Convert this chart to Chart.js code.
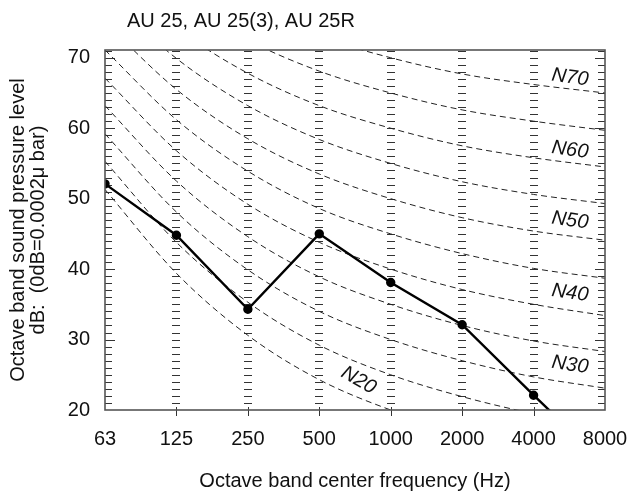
<!DOCTYPE html>
<html>
<head>
<meta charset="utf-8">
<script src="https://cdn.jsdelivr.net/npm/chart.js@4/dist/chart.umd.min.js"></script>
<style>
  html, body { margin: 0; padding: 0; background: #fff; }
  #wrap { width: 634px; height: 497px; }
</style>
</head>
<body>
<div id="wrap"><canvas id="nrChart" width="634" height="497"></canvas></div>
<script>
// octave bands, index 0..7 on a linear axis (one octave per step)
var freqLabels = ['63', '125', '250', '500', '1000', '2000', '4000', '8000'];

// measured unit level, dB (last value runs off the bottom of the chart)
var measuredLevel = [52.1, 44.8, 34.3, 45.0, 38.1, 32.1, 22.1, 12.4];

// N curves, dB per octave band
var n20 = [51.3, 39.4, 30.6, 24.3, 20.0, 16.8, 14.4, 12.6];
var n25 = [55.3, 43.8, 35.3, 29.2, 25.0, 21.9, 19.5, 17.8];
var n30 = [59.2, 48.1, 39.9, 34.0, 30.0, 27.0, 24.7, 23.1];
var n35 = [63.2, 52.5, 44.6, 38.9, 35.0, 32.0, 29.8, 28.3];
var n40 = [67.1, 56.8, 49.2, 43.8, 40.0, 37.1, 35.0, 33.4];
var n45 = [71.1, 61.2, 53.9, 48.6, 45.0, 42.2, 40.1, 38.7];
var n50 = [75.0, 65.5, 58.5, 53.5, 50.0, 47.3, 45.4, 44.1];
var n55 = [79.0, 69.9, 63.2, 58.4, 55.0, 52.4, 50.6, 49.3];
var n60 = [82.9, 74.2, 67.8, 63.2, 60.0, 57.5, 55.8, 54.5];
var n65 = [86.9, 78.6, 72.5, 68.1, 65.0, 62.6, 61.0, 59.7];
var n70 = [90.8, 82.9, 77.1, 73.0, 70.0, 67.7, 66.2, 65.0];

var nCurves = [n20, n25, n30, n35, n40, n45, n50, n55, n60, n65, n70];
var nLabels = ['N20', 'N30', 'N40', 'N50', 'N60', 'N70'];
var chartTitle = 'AU 25, AU 25(3), AU 25R';

var FONT = "'Liberation Sans', Arial, sans-serif";
Chart.defaults.font.family = FONT;
Chart.defaults.color = '#111';

function toPoints(arr) {
  return arr.map(function (v, i) { return { x: i, y: v }; });
}

var datasets = [{
  label: 'AU 25',
  data: toPoints(measuredLevel),
  borderColor: '#000',
  backgroundColor: '#000',
  borderWidth: 2.4,
  pointRadius: 3.5,
  tension: 0
}];

nCurves.forEach(function (c) {
  datasets.push({
    data: toPoints(c),
    borderColor: '#222',
    borderWidth: 1,
    borderDash: [6, 4],
    pointRadius: 0,
    cubicInterpolationMode: 'monotone'
  });
});

// label anchors in data coords: [x index, dB, rotation deg]
var labelPos = {
  N20: [3.55, 24.2, 30],
  N30: [6.51, 26.4, 8],
  N40: [6.51, 36.6, 8],
  N50: [6.51, 46.9, 8],
  N60: [6.51, 56.9, 8],
  N70: [6.51, 67.2, 8]
};

var hatch = {
  id: 'hatch',
  beforeDatasetsDraw: function (chart) {
    var ctx = chart.ctx, a = chart.chartArea, x = chart.scales.x, y = chart.scales.y;
    ctx.save();
    ctx.strokeStyle = '#333';
    ctx.lineWidth = 1;
    ctx.beginPath();
    for (var i = 1; i < freqLabels.length - 1; i++) {
      var px = Math.round(x.getPixelForValue(i));
      for (var v = 21; v <= 71; v++) {
        var py = Math.round(y.getPixelForValue(v)) + 0.5;
        ctx.moveTo(px - 4, py);
        ctx.lineTo(px + 4, py);
      }
    }
    for (var v2 = 21; v2 <= 71; v2++) {
      var py2 = Math.round(y.getPixelForValue(v2)) + 0.5;
      var len = v2 % 10 === 0 ? 10 : 7;
      ctx.moveTo(a.left, py2); ctx.lineTo(a.left + len, py2);
      ctx.moveTo(a.right, py2); ctx.lineTo(a.right - len, py2);
    }
    ctx.stroke();
    ctx.restore();
  },
  afterDatasetsDraw: function (chart) {
    var ctx = chart.ctx, a = chart.chartArea, x = chart.scales.x, y = chart.scales.y;
    ctx.save();
    // bottom ticks
    ctx.strokeStyle = '#333';
    ctx.lineWidth = 1;
    ctx.beginPath();
    for (var i = 1; i < freqLabels.length - 1; i++) {
      var px = Math.round(x.getPixelForValue(i)) + 0.5;
      ctx.moveTo(px, a.bottom - 3);
      ctx.lineTo(px, a.bottom + 6);
    }
    ctx.stroke();
    // frame
    ctx.strokeStyle = '#555';
    ctx.lineWidth = 1.6;
    ctx.strokeRect(a.left, a.top, a.right - a.left, a.bottom - a.top);
    // curve names
    ctx.fillStyle = '#111';
    ctx.font = 'italic 20px ' + FONT;
    ctx.textAlign = 'center';
    ctx.textBaseline = 'middle';
    nLabels.forEach(function (name) {
      var p = labelPos[name];
      ctx.save();
      ctx.translate(x.getPixelForValue(p[0]), y.getPixelForValue(p[1]));
      ctx.rotate(p[2] * Math.PI / 180);
      ctx.fillText(name, 0, 0);
      ctx.restore();
    });
    // heading, offset from the plot's left edge
    ctx.font = '20px ' + FONT;
    ctx.textAlign = 'left';
    ctx.fillText(chartTitle, a.left + 22, 21);
    ctx.restore();
  }
};

new Chart(document.getElementById('nrChart').getContext('2d'), {
  type: 'line',
  data: { datasets: datasets },
  plugins: [hatch],
  options: {
    responsive: false,
    animation: false,
    layout: { padding: { left: 0, right: 29, top: 50, bottom: 0 } },
    plugins: {
      legend: { display: false },
      tooltip: { enabled: false },
      title: { display: false }
    },
    scales: {
      x: {
        type: 'linear',
        min: 0,
        max: 7,
        grid: { display: false },
        border: { display: false },
        ticks: {
          stepSize: 1,
          padding: 9,
          font: { size: 20 },
          color: '#111',
          maxRotation: 0,
          callback: function (v) { return freqLabels[v]; }
        },
        title: {
          display: true,
          text: 'Octave band center frequency (Hz)',
          font: { size: 20 },
          color: '#111',
          padding: { top: 0, bottom: 4 }
        },
        afterFit: function (s) { s.height = 87; s.paddingLeft = 0; s.paddingRight = 0; }
      },
      y: {
        min: 20,
        max: 71.1,
        grid: { display: false },
        border: { display: false },
        ticks: {
          stepSize: 10,
          includeBounds: false,
          padding: 7,
          font: { size: 20 },
          color: '#111'
        },
        title: {
          display: true,
          text: ['Octave band sound pressure level', 'dB:  (0dB=0.0002\u03bc bar)'],
          font: { size: 20, lineHeight: 1.0 },
          color: '#111',
          padding: { top: 8, bottom: 0 }
        },
        afterFit: function (s) { s.width = 105; s.paddingTop = 0; s.paddingBottom = 0; }
      }
    }
  }
});
</script>
</body>
</html>
